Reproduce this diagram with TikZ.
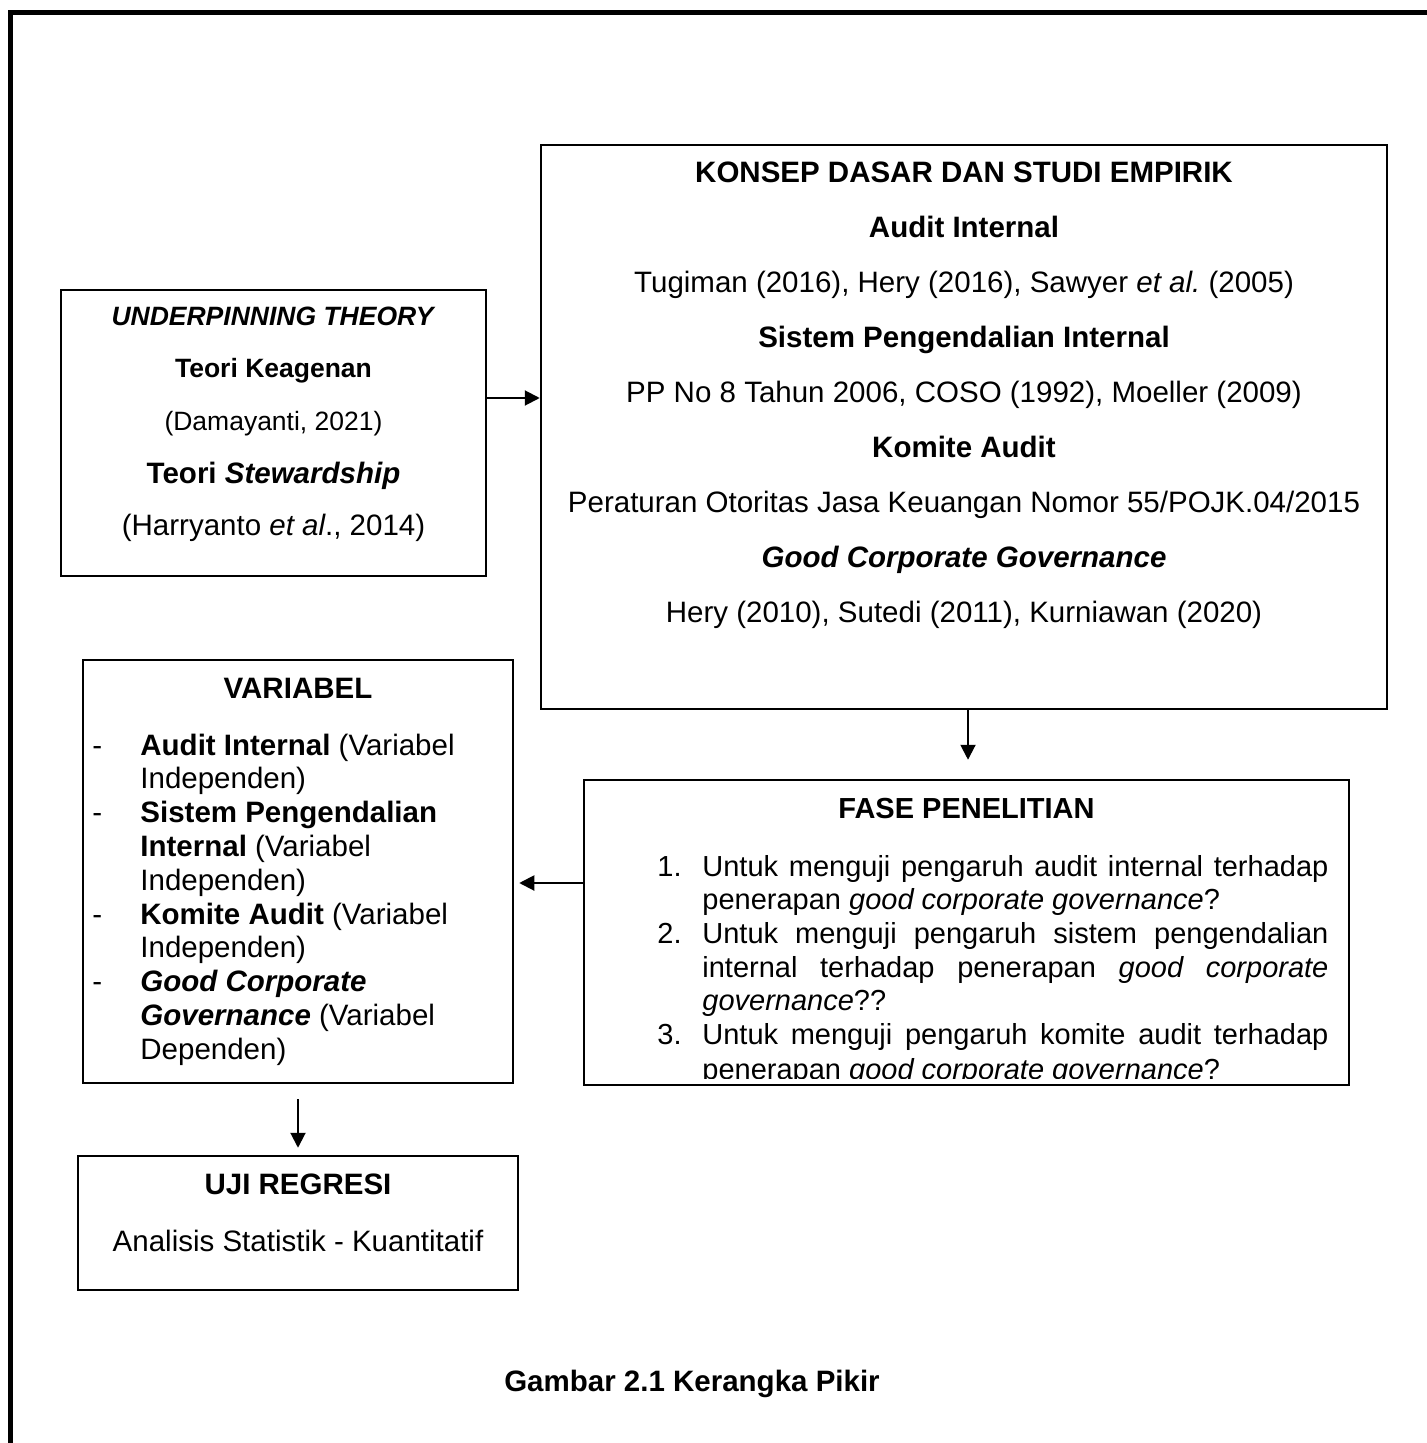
\documentclass[tikz,border=0pt]{standalone}
\usepackage{fontspec}
\setmainfont{Liberation Sans}
\usetikzlibrary{arrows.meta}
\newcommand\fsmain{\fontsize{14.75pt}{17pt}\selectfont}
\newcommand\fssmall{\fontsize{13.25pt}{15pt}\selectfont}
\newcommand\fsfase{\fontsize{14.5pt}{17pt}\selectfont}
\frenchspacing
\begin{document}
\begin{tikzpicture}[x=0.5pt, y=-0.5pt,
  box/.style={draw, line width=1.25pt, inner sep=0pt, rectangle},
  arr/.style={line width=1pt, -{Triangle[length=7.5pt,width=7.5pt]}},
  t/.style={inner sep=0pt, anchor=base, font=\fsmain},
  ts/.style={inner sep=0pt, anchor=base, font=\fssmall},
  tl/.style={inner sep=0pt, anchor=base west, font=\fsmain},
  tf/.style={inner sep=0pt, anchor=base west, font=\fsfase}]
\useasboundingbox (0,0) rectangle (1426,1443);
% outer frame (top and left)
\draw[line width=2.6pt, line join=miter] (10.5,1450) -- (10.5,12.5) -- (1435,12.5);

% boxes
\node[box, minimum width=212.5pt, minimum height=143pt] (under) at (273.5,433) {};
\node[box, minimum width=423pt, minimum height=282pt] (konsep) at (964,427) {};
\node[box, minimum width=215pt, minimum height=211.5pt] (variabel) at (298,871.5) {};
\node[box, minimum width=382.5pt, minimum height=152.5pt] (fase) at (966.5,932.5) {};
\node[box, minimum width=220pt, minimum height=67pt] (uji) at (298,1223) {};

% underpinning texts
\node[ts] (u1) at (273.5,325.5) {\textbf{\textit{UNDERPINNING THEORY}}};
\node[ts] (u2) at (273.5,378) {\textbf{Teori Keagenan}};
\node[ts] (u3) at (273.5,430.5) {(Damayanti, 2021)};
\node[t] (u4) at (273.5,483) {\textbf{Teori \textit{Stewardship}}};
\node[t] (u5) at (273.5,535.5) {(Harryanto \textit{et al}., 2014)};

% konsep texts
\node[t] (k1) at (964,182.5) {\textbf{KONSEP DASAR DAN STUDI EMPIRIK}};
\node[t] (k2) at (964,237.5) {\textbf{Audit Internal}};
\node[t] (k3) at (964,292.5) {Tugiman (2016), Hery (2016), Sawyer \textit{et al.}\ (2005)};
\node[t] (k4) at (964,347.5) {\textbf{Sistem Pengendalian Internal}};
\node[t] (k5) at (964,402.5) {PP No 8 Tahun 2006, COSO (1992), Moeller (2009)};
\node[t] (k6) at (964,457.5) {\textbf{Komite Audit}};
\node[t] (k7) at (964,512.5) {Peraturan Otoritas Jasa Keuangan Nomor 55/POJK.04/2015};
\node[t] (k8) at (964,567.5) {\textbf{\textit{Good Corporate Governance}}};
\node[t] (k9) at (964,622.5) {Hery (2010), Sutedi (2011), Kurniawan (2020)};

% variabel texts
\node[t] (v0) at (298,698.5) {\textbf{VARIABEL}};
\node[tl] (d1) at (92,755) {-};
\node[tl] (d2) at (92,822.6) {-};
\node[tl] (d3) at (92,924) {-};
\node[tl] (d4) at (92,991.6) {-};
\node[tl] (v1) at (140,755) {\textbf{Audit Internal} (Variabel};
\node[tl] (v2) at (140,788.8) {Independen)};
\node[tl] (v3) at (140,822.6) {\textbf{Sistem Pengendalian}};
\node[tl] (v4) at (140,856.4) {\textbf{Internal} (Variabel};
\node[tl] (v5) at (140,890.2) {Independen)};
\node[tl] (v6) at (140,924) {\textbf{Komite Audit} (Variabel};
\node[tl] (v7) at (140,957.8) {Independen)};
\node[tl] (v8) at (140,991.6) {\textbf{\textit{Good Corporate}}};
\node[tl] (v9) at (140,1025.4) {\textbf{\textit{Governance}} (Variabel};
\node[tl] (v10) at (140,1059.2) {Dependen)};

% fase texts
\node[inner sep=0pt, anchor=base, font=\fsfase] (f0) at (966.5,818.5) {\textbf{FASE PENELITIAN}};
\node[tf] (n1) at (657,876) {1.};
\node[tf] (f1) at (702,876) {\makebox[313pt][s]{Untuk menguji pengaruh audit internal terhadap}};
\node[tf] (f2) at (702,909.7) {penerapan \textit{good corporate governance}?};
\node[tf] (n2) at (657,943.4) {2.};
\node[tf] (f3) at (702,943.4) {\makebox[313pt][s]{Untuk menguji pengaruh sistem pengendalian}};
\node[tf] (f4) at (702,977.1) {\makebox[313pt][s]{internal terhadap penerapan \textit{good corporate}}};
\node[tf] (f5) at (702,1010.8) {\textit{governance}??};
\node[tf] (n3) at (657,1044.5) {3.};
\node[tf] (f6) at (702,1044.5) {\makebox[313pt][s]{Untuk menguji pengaruh komite audit terhadap}};
\begin{scope}
\clip (590,1050) rectangle (1340,1078);
\node[tf] (f7) at (702,1079) {penerapan \textit{good corporate governance}?};
\end{scope}

% uji texts
\node[t] (j1) at (298,1194.5) {\textbf{UJI REGRESI}};
\node[t] (j2) at (298,1251) {Analisis Statistik - Kuantitatif};

% caption
\node[t] (cap) at (692,1391) {\textbf{Gambar 2.1 Kerangka Pikir}};

% connectors
\coordinate (a1) at (500,398);
\draw[arr] (under.east |- a1) -- (konsep.west |- a1);
\coordinate (a2) at (968,740);
\draw[arr, shorten >=9.5pt] (konsep.south -| a2) -- (fase.north -| a2);
\coordinate (a3) at (550,883);
\draw[arr, shorten >=2.5pt] (fase.west |- a3) -- (variabel.east |- a3);
\coordinate (a4) at (298,1120);
\draw[arr, shorten <=7.5pt, shorten >=3.5pt] (variabel.south -| a4) -- (uji.north -| a4);
\end{tikzpicture}
\end{document}
